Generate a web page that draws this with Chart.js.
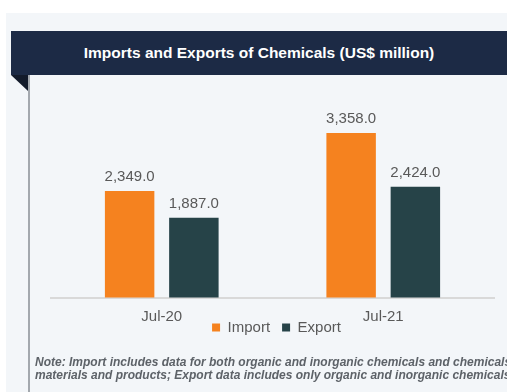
<!DOCTYPE html>
<html>
<head>
<meta charset="utf-8">
<script src="https://cdn.jsdelivr.net/npm/chart.js@4/dist/chart.umd.min.js"></script>
<style>
  html, body { margin: 0; padding: 0; background: #ffffff; }
  #page { position: relative; width: 507px; height: 392px; overflow: hidden; }
  #panel { position: absolute; left: 6px; top: 13px; right: 0; bottom: 0; background: #f3f6f9; }
  #banner {
    position: absolute; left: 11px; top: 31px; width: 496px; height: 44px;
    background: #1c2a45; color: #ffffff;
    font: bold 15.5px "Liberation Sans", Arial, sans-serif;
    line-height: 44px; text-align: center; text-indent: 0;
  }
  #fold {
    position: absolute; left: 11px; top: 75px; width: 0; height: 0;
    border-left: 17px solid transparent; border-top: 16px solid #131b2b;
  }
  #rule { position: absolute; left: 28px; top: 75px; width: 2px; bottom: 0; background: #a3a8ae; }
  #note {
    position: absolute; left: 35px; top: 356px; width: 560px;
    font: italic bold 12px "Liberation Sans", Arial, sans-serif;
    line-height: 13px; color: #5d6268; white-space: nowrap;
  }
  #wrap { position: absolute; left: 0; top: 80px; width: 507px; height: 294px; }
</style>
</head>
<body>
<div id="page">
  <div id="panel"></div>
  <div id="banner">Imports and Exports of Chemicals (US$ million)</div>
  <div id="fold"></div>
  <div id="rule"></div>
  <div id="wrap"><canvas id="chemChart"></canvas></div>
  <div id="note">Note: Import includes data for both organic and inorganic chemicals and chemicals<br>materials and products; Export data includes only organic and inorganic chemicals</div>
</div>
<script>
const months = ["Jul-20", "Jul-21"];
const importVals = [2349.0, 3358.0];
const exportVals = [1887.0, 2424.0];

const fmt = v => v.toLocaleString("en-US", { minimumFractionDigits: 1, maximumFractionDigits: 1 });

// value labels above the bars
const barLabels = {
    id: "barLabels",
    afterDatasetsDraw(chart) {
        const ctx = chart.ctx;
        ctx.save();
        ctx.font = "15px 'Liberation Sans', Arial, sans-serif";
        ctx.fillStyle = "#595959";
        ctx.textAlign = "center";
        ctx.textBaseline = "middle";
        chart.data.datasets.forEach((ds, i) => {
            chart.getDatasetMeta(i).data.forEach((bar, j) => {
                ctx.fillText(fmt(ds.data[j]), bar.x, bar.y - 14);
            });
        });
        ctx.restore();
    }
};

// pull the legend up closer to the axis labels
const legendNudge = {
    id: "legendNudge",
    afterLayout(chart) {
        const lg = chart.legend;
        lg.top -= 29;
        lg.bottom -= 29;
        lg.left += 4;
        lg.right += 4;
    }
};

document.addEventListener("DOMContentLoaded", function () {
    const ctx = document.getElementById("chemChart").getContext("2d");
    new Chart(ctx, {
        type: "bar",
        data: {
            labels: months,
            datasets: [
                { label: "Import", data: importVals, backgroundColor: "#f5821f" },
                { label: "Export", data: exportVals, backgroundColor: "#264348" }
            ]
        },
        options: {
            responsive: true,
            maintainAspectRatio: false,
            animation: false,
            layout: { padding: { left: 51, right: 13, top: 16, bottom: 0 } },
            datasets: { bar: { categoryPercentage: 0.58, barPercentage: 0.77 } },
            scales: {
                x: {
                    grid: { display: false, drawTicks: false },
                    border: { display: true, color: "#d9d9d9", width: 2 },
                    ticks: {
                        color: "#595959",
                        padding: 16,
                        font: { family: "'Liberation Sans', Arial, sans-serif", size: 15, lineHeight: 0.5 }
                    }
                },
                y: { display: false, min: 500, max: 4000 }
            },
            plugins: {
                legend: {
                    position: "bottom",
                    labels: {
                        boxWidth: 8,
                        boxHeight: 8,
                        padding: 12,
                        color: "#595959",
                        font: { family: "'Liberation Sans', Arial, sans-serif", size: 15 }
                    }
                },
                tooltip: { enabled: false }
            }
        },
        plugins: [barLabels, legendNudge]
    });
});
</script>
</body>
</html>
